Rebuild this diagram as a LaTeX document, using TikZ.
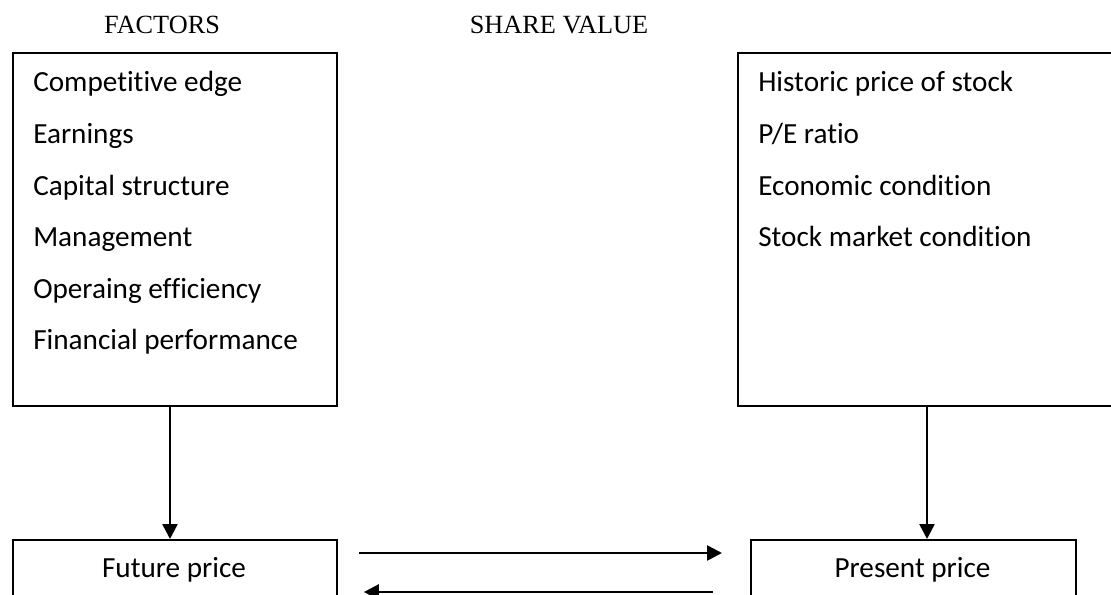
\documentclass[tikz,border=0pt]{standalone}
\usepackage{fontspec}
\setmainfont{Carlito}[Ligatures=NoCommon]
\newfontfamily\headfont{Liberation Serif}
\usetikzlibrary{arrows.meta,calc}
\begin{document}
\begin{tikzpicture}[x=0.75pt,y=-0.75pt,
  box/.style={draw, line width=1.4pt, rectangle, inner sep=0pt, anchor=north west},
  item/.style={anchor=base west, inner sep=0pt, font=\fontsize{21.9}{26}\selectfont},
  label/.style={anchor=base, inner sep=0pt, font=\fontsize{21.9}{26}\selectfont},
  head/.style={anchor=base, inner sep=0pt, font=\headfont\fontsize{19.7}{24}\selectfont},
  arr/.style={line width=1.9pt, -{Triangle[length=11.25pt,width=11.25pt]}}]
\useasboundingbox (0,0) rectangle (1111,595);
\clip (0,0) rectangle (1111,595);
% headings
\node[head] (h1) at (162,33.5) {FACTORS};
\node[head] (h2) at (559,33.5) {SHARE VALUE};
% upper boxes
\node[box, minimum width=243pt, minimum height=264.75pt] (fac) at (12,52) {};
\node[box, minimum width=294.75pt, minimum height=264.75pt] (sv) at (737,52) {};
% left items
\node[item] (f1) at (33,92) {Competitive edge};
\node[item] (f2) at (33,144) {Earnings};
\node[item] (f3) at (33,196) {Capital structure};
\node[item] (f4) at (33,247) {Management};
\node[item] (f5) at (33,299) {Operaing efficiency};
\node[item] (f6) at (33,350) {Financial performance};
% right items
\node[item] (s1) at (758,92) {Historic price of stock};
\node[item] (s2) at (758,144) {P/E ratio};
\node[item] (s3) at (758,196) {Economic condition};
\node[item] (s4) at (758,247) {Stock market condition};
% lower boxes
\node[box, minimum width=243pt, minimum height=60.75pt] (future) at (12,539) {};
\node[box, minimum width=243.75pt, minimum height=60.75pt] (present) at (750,539) {};
\node[label] (ft) at (174,577) {Future price};
\node[label] (pt) at (912.5,577) {Present price};
% connectors
\draw[arr] (fac.south -| 170,0) -- (future.north -| 170,0);
\draw[arr] (sv.south -| 927,0) -- (present.north -| 927,0);
\draw[arr] ($(future.east |- 0,553)+(21,0)$) -- ($(present.west |- 0,553)+(-28,0)$);
\draw[arr] ($(present.west |- 0,592)+(-37,0)$) -- ($(future.east |- 0,592)+(26,0)$);
\end{tikzpicture}
\end{document}
